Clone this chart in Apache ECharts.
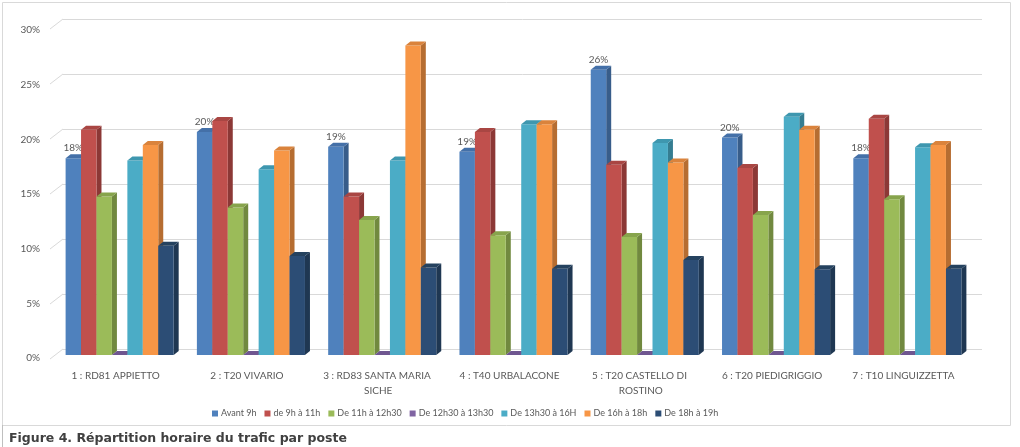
<!DOCTYPE html>
<html>
<head>
<meta charset="utf-8">
<script src="https://cdn.jsdelivr.net/npm/echarts@6/dist/echarts.min.js"></script>
<style>html,body{margin:0;padding:0;background:#fff}#c{width:1020px;height:447px}</style>
</head>
<body>
<div id="c"></div>
<script>
// ---- data ----
var categories = ['1 : RD81 APPIETTO', '2 : T20 VIVARIO', '3 : RD83 SANTA MARIA SICHE', '4 : T40 URBALACONE', '5 : T20 CASTELLO DI ROSTINO', '6 : T20 PIEDIGRIGGIO', '7 : T10 LINGUIZZETTA'];
var seriesNames = ['Avant 9h', 'de 9h à 11h', 'De 11h à 12h30', 'De 12h30 à 13h30', 'De 13h30 à 16H', 'De 16h à 18h', 'De 18h à 19h'];
var avant9h     = [18.0, 20.4, 19.05, 18.6, 26.1, 19.9, 18.0];
var de9ha11h    = [20.6, 21.4, 14.5, 20.4, 17.4, 17.1, 21.6];
var de11ha12h30 = [14.5, 13.5, 12.35, 10.95, 10.8, 12.8, 14.25];
var de12h30a13h30 = [0, 0, 0, 0, 0, 0, 0];
var de13h30a16h = [17.8, 17.0, 17.8, 21.1, 19.4, 21.8, 19.0];
var de16ha18h   = [19.2, 18.7, 28.3, 21.1, 17.6, 20.6, 19.2];
var de18ha19h   = [10.0, 9.05, 8.0, 7.9, 8.7, 7.85, 7.9];
var yTicks = [0, 5, 10, 15, 20, 25, 30];
var caption = 'Figure 4. Répartition horaire du trafic par poste';

var allValues = [avant9h, de9ha11h, de11ha12h30, de12h30a13h30, de13h30a16h, de16ha18h, de18ha19h];
var fronts = ['#4F81BD', '#C0504D', '#9BBB59', '#8064A2', '#4BACC6', '#F79646', '#2C4D75'];
var tops   = ['#4470A8', '#A94643', '#87A44C', '#6F5690', '#3E97AF', '#DA833C', '#25425F'];
var sides  = ['#385D8A', '#8C3836', '#71893F', '#5C4776', '#357D91', '#B66D31', '#1F3752'];
var labelColor = '#595959';
var FONT = 'Lato';
var BAR_FRAC = 0.1176, DX = 5, DY = 4;

function makeRender(si) {
  return function (params, api) {
    var cat = api.value(0), v = api.value(1);
    var base = api.coord([cat, 0]);
    var top = api.coord([cat, v]);
    var band = api.size([1, 0])[0];
    var w = band * BAR_FRAC;
    var x = base[0] - w * 7 / 2 + si * w;
    var yb = base[1], yt = top[1];
    var children = [
      {type: 'polygon', shape: {points: [[x + w, yt], [x + w + DX, yt - DY], [x + w + DX, yb - DY], [x + w, yb]]},
       style: {fill: sides[si]}},
      {type: 'rect', shape: {x: x, y: yt, width: w, height: yb - yt}, style: {fill: fronts[si]}},
      {type: 'polygon', shape: {points: [[x, yt], [x + w, yt], [x + w + DX, yt - DY], [x + DX, yt - DY]]},
       style: {fill: tops[si]}}
    ];
    if (si === 0) {
      children.push({type: 'text', x: x + w / 2, y: yt - DY - 1,
        style: {text: Math.round(v) + '%', fill: labelColor, font: '10px ' + FONT, align: 'center', verticalAlign: 'bottom'}});
    }
    return {type: 'group', children: children};
  };
}

var series = [];
for (var s = 0; s < 7; s++) {
  series.push({
    type: 'custom', name: seriesNames[s], xAxisIndex: 0, yAxisIndex: 0,
    renderItem: makeRender(s),
    itemStyle: {color: fronts[s]},
    data: allValues[s].map(function (v, i) { return [i, v]; }),
    z: 3 + s
  });
}
// slanted floor/wall edges joining the tick labels to the back wall
series.push({
  type: 'custom', xAxisIndex: 1, yAxisIndex: 1, silent: true, legendHoverLink: false,
  renderItem: function (params, api) {
    var p = api.coord([0, api.value(0)]);
    return {type: 'line', shape: {x1: p[0], y1: p[1], x2: p[0] - 13, y2: p[1] + 10},
      style: {stroke: '#D9D9D9', lineWidth: 1}};
  },
  data: yTicks.map(function (t) { return [t]; }),
  encode: {y: 0}, z: 1
});

var option = {
  animation: false,
  backgroundColor: '#fff',
  title: {text: caption, left: 4, top: 427,
    textStyle: {fontFamily: 'DejaVu Sans', fontWeight: 'bold', fontSize: 12.5, color: '#404040'}},
  legend: {data: seriesNames, left: 207, top: 404, itemWidth: 6, itemHeight: 6, itemGap: 8,
    icon: 'rect', textStyle: {fontFamily: FONT, fontSize: 9, color: labelColor, padding: [0, 0, 0, -2]}},
  graphic: [
    {type: 'rect', shape: {x: 2.5, y: 2.5, width: 1008, height: 423}, style: {fill: 'none', stroke: '#D9D9D9', lineWidth: 1}, silent: true},
    {type: 'line', shape: {x1: 2.5, y1: 425, x2: 2.5, y2: 447}, style: {stroke: '#BFBFBF', lineWidth: 1}, silent: true}
  ],
  grid: [
    {left: 54, right: 47, top: 27, bottom: 92},   // bars (front plane)
    {left: 63, right: 38, top: 19, bottom: 98},   // back wall
    {left: 50, right: 51, top: 30, bottom: 89}    // labels
  ],
  xAxis: [
    {type: 'category', gridIndex: 0, data: categories, show: false},
    {type: 'value', gridIndex: 1, min: 0, max: 1, show: false},
    {type: 'category', gridIndex: 2, data: categories, axisLine: {show: false}, axisTick: {show: false},
      axisLabel: {interval: 0, color: labelColor, fontFamily: FONT, fontSize: 10, margin: 10, width: 122, overflow: 'break', lineHeight: 15}}
  ],
  yAxis: [
    {type: 'value', gridIndex: 0, min: 0, max: 30, interval: 5, show: false},
    {type: 'value', gridIndex: 1, min: 0, max: 30, interval: 5, axisLine: {show: false}, axisTick: {show: false},
      axisLabel: {show: false}, splitLine: {lineStyle: {color: '#D9D9D9', width: 1}}},
    {type: 'value', gridIndex: 2, min: 0, max: 30, interval: 5, axisLine: {show: false}, axisTick: {show: false},
      splitLine: {show: false},
      axisLabel: {color: labelColor, fontFamily: FONT, fontSize: 10, margin: 10, formatter: function (v) { return v + '%'; }}}
  ],
  series: series
};
var chart = echarts.init(document.getElementById('c'), null, {renderer: 'canvas'});
chart.setOption(option);
</script>
</body>
</html>
